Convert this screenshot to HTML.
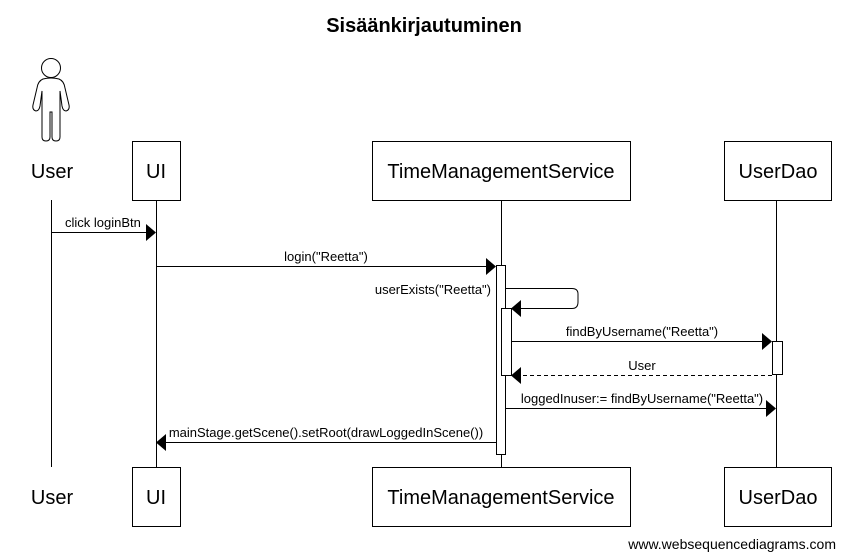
<!DOCTYPE html>
<html><head><meta charset="utf-8"><style>html,body{margin:0;padding:0;background:#fff}svg{display:block}</style></head>
<body>
<svg width="845" height="559" viewBox="0 0 845 559" xmlns="http://www.w3.org/2000/svg" font-family="'Liberation Sans', Arial, sans-serif">
<rect width="845" height="559" fill="#fff"/>
<text x="424" y="32" font-size="20" font-weight="bold" text-anchor="middle">Sisäänkirjautuminen</text>
<g fill="none" stroke="#000" stroke-width="1">
<circle cx="51" cy="68" r="9.5"/>
<path d="M43,79 Q51,77 59,79 Q64,81 65,88 L69,105 Q70,110 66,111 Q63,111 62,106 L60,91 L60,137 Q60,141 56,141 Q52,141 52,137 L52,112 L50,112 L50,137 Q50,141 46,141 Q42,141 42,137 L42,91 L40,106 Q39,111 36,111 Q32,110 33,105 L37,88 Q38,81 43,79 Z"/>
</g>
<g stroke="#000" stroke-width="1" fill="#fff">
<line x1="51.5" y1="200" x2="51.5" y2="467"/>
<line x1="156.5" y1="200" x2="156.5" y2="467"/>
<line x1="501.5" y1="200" x2="501.5" y2="467"/>
<line x1="776.5" y1="200" x2="776.5" y2="467"/>
<rect x="132.5" y="141.5" width="48" height="59"/>
<rect x="372.5" y="141.5" width="258" height="59"/>
<rect x="724.5" y="141.5" width="107" height="59"/>
<rect x="132.5" y="467.5" width="48" height="59"/>
<rect x="372.5" y="467.5" width="258" height="59"/>
<rect x="724.5" y="467.5" width="107" height="59"/>
<rect x="496.5" y="265.5" width="9" height="189"/>
<rect x="501.5" y="308.5" width="10" height="67"/>
<rect x="772.5" y="341.5" width="10" height="33"/>
</g>
<g font-size="20" text-anchor="middle">
<text x="52" y="178">User</text><text x="156" y="178">UI</text><text x="501" y="178">TimeManagementService</text><text x="778" y="178">UserDao</text>
<text x="52" y="504">User</text><text x="156" y="504">UI</text><text x="501" y="504">TimeManagementService</text><text x="778" y="504">UserDao</text>
</g>
<g stroke="#000" stroke-width="1" fill="none">
<line x1="51" y1="232.5" x2="147" y2="232.5"/>
<line x1="156" y1="266.5" x2="487" y2="266.5"/>
<path d="M505,288.5 L572,288.5 Q578,288.5 578,294 L578,302 Q578,308.5 572,308.5 L521,308.5"/>
<line x1="511" y1="341.5" x2="763" y2="341.5"/>
<line x1="772" y1="375.5" x2="521" y2="375.5" stroke-dasharray="4,3"/>
<line x1="505" y1="408.5" x2="767" y2="408.5"/>
<line x1="496" y1="442.5" x2="166" y2="442.5"/>
</g>
<g fill="#000">
<polygon points="146,224 156,232.5 146,241"/>
<polygon points="486,258 496,266.5 486,275"/>
<polygon points="521,300 511,308.5 521,317"/>
<polygon points="762,333 772,341.5 762,350"/>
<polygon points="521,367 511,375.5 521,384"/>
<polygon points="766,400 776,408.5 766,417"/>
<polygon points="166,434 156,442.5 166,451"/>
</g>
<g font-size="13">
<text x="65" y="227">click loginBtn</text>
<text x="326" y="261" text-anchor="middle">login("Reetta")</text>
<text x="491" y="294" text-anchor="end">userExists("Reetta")</text>
<text x="642" y="336" text-anchor="middle">findByUsername("Reetta")</text>
<text x="642" y="370" text-anchor="middle">User</text>
<text x="642" y="403" text-anchor="middle">loggedInuser:= findByUsername("Reetta")</text>
<text x="326" y="437" text-anchor="middle">mainStage.getScene().setRoot(drawLoggedInScene())</text>
</g>
<text x="836" y="549" font-size="14" text-anchor="end">www.websequencediagrams.com</text>
</svg>
</body></html>
